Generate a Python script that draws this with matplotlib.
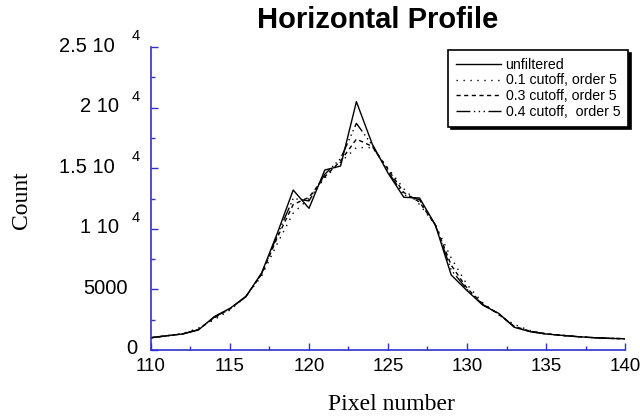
import matplotlib
matplotlib.use("Agg")
import matplotlib.pyplot as plt
from matplotlib.transforms import blended_transform_factory, offset_copy, ScaledTranslation

# pixel positions across the profile
pixel = [110, 111, 112, 113, 114, 115, 116, 117, 118, 119, 120,
         121, 122, 123, 124, 125, 126, 127, 128, 129, 130,
         131, 132, 133, 134, 135, 136, 137, 138, 139, 140]

unfiltered = [1020, 1180, 1320, 1650, 2750, 3440, 4400, 6350, 9650, 13200, 11690,
              14850, 15180, 20490, 17000, 14600, 12600, 12540, 10310, 6190, 4900,
              3700, 3030, 1870, 1510, 1320, 1210, 1100, 1020, 960, 930]

cut01 = [1000, 1150, 1350, 1800, 2500, 3300, 4400, 6100, 8800, 11300, 12500,
         14200, 15500, 16700, 16700, 15000, 13300, 12000, 10300, 7600, 5400,
         3900, 2900, 2100, 1600, 1350, 1200, 1100, 1020, 960, 930]

cut03 = [1010, 1170, 1330, 1700, 2650, 3400, 4400, 6250, 9300, 12000, 12600,
         14300, 15600, 17400, 16800, 14900, 13000, 12200, 10300, 7000, 5100,
         3800, 2950, 1950, 1550, 1330, 1210, 1100, 1020, 960, 930]

cut04 = [1015, 1175, 1325, 1680, 2700, 3420, 4400, 6300, 9500, 12500, 12300,
         14500, 15800, 18700, 16900, 14700, 12800, 12400, 10300, 6600, 5000,
         3750, 3000, 1900, 1530, 1320, 1210, 1100, 1020, 960, 930]

series_labels = ["unfiltered", "0.1 cutoff, order 5", "0.3 cutoff, order 5", "0.4 cutoff,  order 5"]

xticks = [110, 115, 120, 125, 130, 135, 140]
yticks = [0, 5000, 10000, 15000, 20000, 25000]
ytick_base = ["0", "5000", "1 10", "1.5 10", "2 10", "2.5 10"]
ytick_exp = ["", "", "4", "4", "4", "4"]

AX_BLUE = "#3030d0"
SANS = "Liberation Sans"
SERIF = "Liberation Serif"

fig = plt.figure(figsize=(6.4, 4.16), dpi=100)
ax = fig.add_axes([151 / 640, 66 / 416, 474 / 640, 303 / 416])

styles = ["-", (0, (1, 4)), (0, (3, 2.5)), (0, (10, 2.5, 1, 2.5, 1, 2.5, 1, 2.5))]
for ys, ls, lab in zip([unfiltered, cut01, cut03, cut04], styles, series_labels):
    ax.plot(pixel, ys, color="black", lw=1.0, ls=ls, label=lab)

ax.set_xlim(110, 140)
ax.set_ylim(0, 25000)
ax.set_xticks(xticks)
ax.set_xticks([112.5, 117.5, 122.5, 127.5, 132.5, 137.5], minor=True)
ax.set_xticklabels([str(t) for t in xticks], fontname=SANS, fontsize=13.5)
ax.set_yticks(yticks)
ax.set_yticks([2500, 7500, 12500, 17500, 22500], minor=True)
ax.set_yticklabels([])

# the last x label sits against the figure edge; nudge it in a little
last = ax.get_xticklabels()[-1]
last.set_transform(last.get_transform() + ScaledTranslation(-3 / 100, 0, fig.dpi_scale_trans))

for side in ["top", "right"]:
    ax.spines[side].set_visible(False)
for side in ["left", "bottom"]:
    ax.spines[side].set_color(AX_BLUE)
    ax.spines[side].set_linewidth(1.2)
ax.tick_params(which="both", direction="in", color=AX_BLUE, width=1.0)
ax.tick_params(which="major", length=5)
ax.tick_params(which="minor", length=3)
ax.tick_params(axis="x", pad=6, colors="black")
ax.tick_params(axis="x", which="both", color=AX_BLUE)

# y tick labels written as "1 10" with a raised exponent, like the original
trans = blended_transform_factory(ax.transAxes, ax.transData)
right_px = [14, 23, 32, 36, 32, 36]
for v, base, ex, rp in zip(yticks, ytick_base, ytick_exp, right_px):
    t = offset_copy(trans, fig=fig, x=-rp * 72 / 100, y=1 * 72 / 100, units="points")
    ax.text(0, v, base, transform=t, ha="right", va="center",
            fontname=SANS, fontsize=14.5, clip_on=False)
    if ex:
        t2 = offset_copy(trans, fig=fig, x=-19 * 72 / 100, y=11 * 72 / 100, units="points")
        ax.text(0, v, ex, transform=t2, ha="left", va="center",
                fontname=SANS, fontsize=10.5, clip_on=False)

fig.text(378 / 640, 1 - 20 / 416, "Horizontal Profile", ha="center", va="center",
         fontname=SANS, fontsize=21, fontweight="bold")
fig.text(391 / 640, 1 - 404 / 416, "Pixel number", ha="center", va="center",
         fontname=SERIF, fontsize=17)
fig.text(21 / 640, 1 - 200 / 416, "Count", ha="center", va="center", rotation=90,
         fontname=SERIF, fontsize=17)

leg = ax.legend(loc="upper right", bbox_to_anchor=(628 / 640, 1 - 50 / 416),
                bbox_transform=fig.transFigure, borderaxespad=0,
                prop={"family": SANS, "size": 10.2}, handlelength=3.2,
                handletextpad=0.3, labelspacing=0.12, borderpad=0.55,
                fancybox=False, framealpha=1,
                shadow={"color": "black", "alpha": 1.0})
leg.get_frame().set_edgecolor("black")
leg.get_frame().set_linewidth(1.2)

fig.savefig("out.png", dpi=100)
